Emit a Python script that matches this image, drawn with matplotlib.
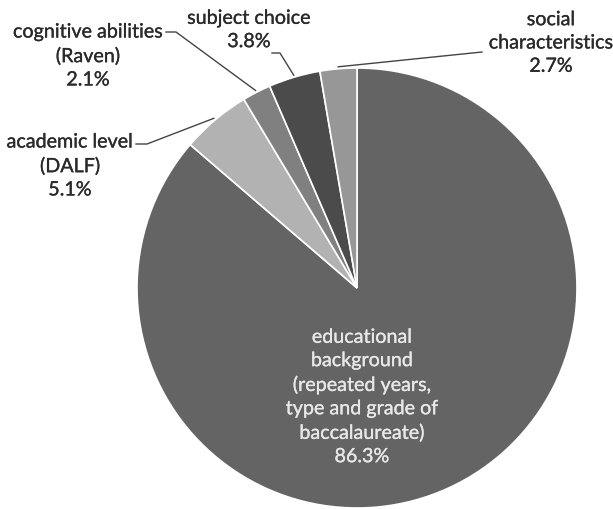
import numpy as np
import matplotlib
matplotlib.use('Agg')
import matplotlib.pyplot as plt
import matplotlib.patheffects as pe

# slice data, clockwise from 12 o'clock
labels = ['educational\nbackground\n(repeated years,\ntype and grade of\nbaccalaureate)',
          'academic level\n(DALF)',
          'cognitive abilities\n(Raven)',
          'subject choice',
          'social\ncharacteristics']
shares = [86.3, 5.1, 2.1, 3.8, 2.7]
colors = ['#646464', '#b2b2b2', '#808080', '#4b4b4b', '#979797']

plt.rcParams['font.family'] = ['Lato', 'DejaVu Sans']

fig = plt.figure(figsize=(6.13, 5.10), dpi=100)
ax = fig.add_axes([0, 0, 1, 1])
ax.set_xlim(0, 613)
ax.set_ylim(0, 510)
ax.set_aspect('equal')
ax.axis('off')

cx, cy, r = 357, 221, 220
wedges, _ = ax.pie(shares, colors=colors, startangle=90, counterclock=False,
                   center=(cx, cy), radius=r,
                   wedgeprops=dict(edgecolor='white', linewidth=1.2))
ax.set_xlim(0, 613)
ax.set_ylim(0, 510)

fs = 14.2
# label block centre (pixels from top-left) and start of leader line
label_pos = [(362, 398), (70, 167), (88, 57), (249, 31), (551, 44)]
leader_start = [None, (136, 145), (166, 33), (272, 54), (482, 53)]
leader_elbow = [None, (147, 145), (176, 33), (280, 54), None]

for i, w in enumerate(wedges):
    txt = labels[i] + '\n%.1f%%' % shares[i]
    x, y = label_pos[i]
    col = '#e8e8e8' if i == 0 else '#2a2a2a'
    ax.text(x, 510 - y, txt, ha='center', va='center', fontsize=fs,
            color=col, linespacing=1.45,
            path_effects=[pe.withStroke(linewidth=0.2, foreground=col)])
    if leader_start[i] is None:
        continue
    mid = np.deg2rad((w.theta1 + w.theta2) / 2)
    px, py = cx + (r + 2) * np.cos(mid), cy + (r + 2) * np.sin(mid)
    xs = [leader_start[i][0]]
    ys = [510 - leader_start[i][1]]
    if leader_elbow[i] is not None:
        xs.append(leader_elbow[i][0])
        ys.append(510 - leader_elbow[i][1])
    xs.append(px)
    ys.append(py)
    ax.plot(xs, ys, color='#444444', linewidth=1.0)

plt.savefig('out.png', dpi=100)
